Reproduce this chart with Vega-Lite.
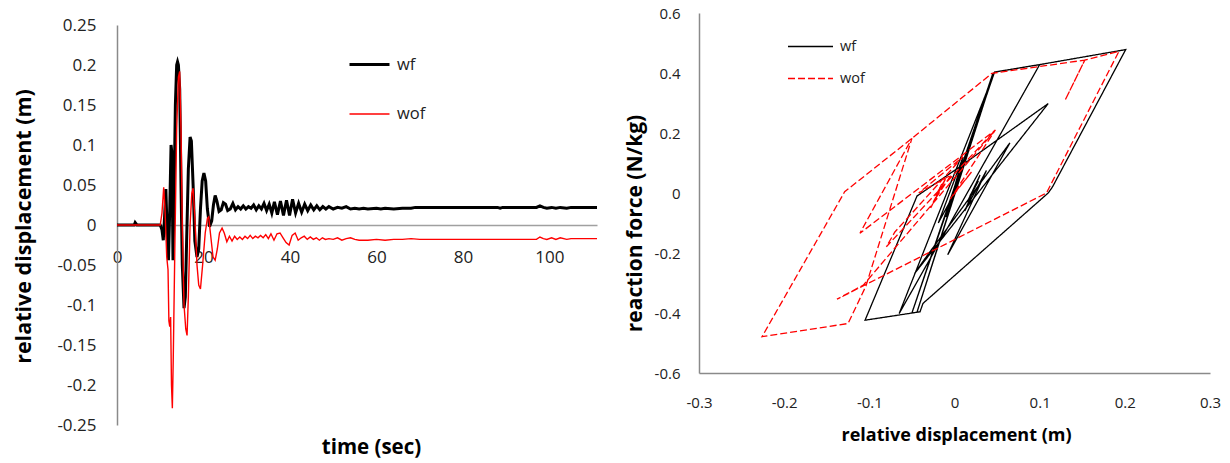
{
"$schema":"https://vega.github.io/schema/vega-lite/v6.json",
"width":1230,"height":463,"autosize":{"type":"none"},"padding":0,
"background":"white",
"config":{"view":{"stroke":null},"font":"Open Sans",
 "locale":{"number":{"decimal":".","thousands":",","grouping":[3],"currency":["$",""],"minus":"-"}},
 "axis":{"grid":false,"ticks":false,"tickSize":0,"labelFont":"Open Sans","titleFont":"Open Sans","labelColor":"#222222","titleColor":"#000000","labelOverlap":false,"labelFlush":false,"domainColor":"#8a8a8a","domainWidth":1.5},
 "legend":{"labelFont":"Open Sans","labelColor":"#222222","padding":0}},
"datasets":{
"ts":[
{"s":"wf","t":0,"v":0},{"s":"wf","t":4,"v":0},{"s":"wf","t":4.2,"v":0.003},{"s":"wf","t":4.6,"v":0},{"s":"wf","t":10,"v":0},{"s":"wf","t":10.4,"v":-0.006},{"s":"wf","t":10.7,"v":-0.019},{"s":"wf","t":11.0,"v":0.01},{"s":"wf","t":11.3,"v":0.045},{"s":"wf","t":11.6,"v":-0.01},{"s":"wf","t":11.9,"v":-0.044},{"s":"wf","t":12.2,"v":0.02},{"s":"wf","t":12.5,"v":0.1},{"s":"wf","t":12.7,"v":0.09},{"s":"wf","t":12.95,"v":-0.044},{"s":"wf","t":13.2,"v":0.04},{"s":"wf","t":13.5,"v":0.15},{"s":"wf","t":13.8,"v":0.2},{"s":"wf","t":14.0,"v":0.204},{"s":"wf","t":14.2,"v":0.2},{"s":"wf","t":14.5,"v":0.17},{"s":"wf","t":14.8,"v":0.05},{"s":"wf","t":15.1,"v":-0.05},{"s":"wf","t":15.5,"v":-0.104},{"s":"wf","t":15.8,"v":-0.09},{"s":"wf","t":16.1,"v":-0.02},{"s":"wf","t":16.5,"v":0.07},{"s":"wf","t":16.9,"v":0.11},{"s":"wf","t":17.2,"v":0.105},{"s":"wf","t":17.6,"v":0.05},{"s":"wf","t":18.0,"v":-0.02},{"s":"wf","t":18.5,"v":-0.04},{"s":"wf","t":18.9,"v":-0.03},{"s":"wf","t":19.3,"v":0.02},{"s":"wf","t":19.7,"v":0.055},{"s":"wf","t":20.1,"v":0.065},{"s":"wf","t":20.5,"v":0.055},{"s":"wf","t":20.9,"v":0.02},{"s":"wf","t":21.4,"v":-0.002},{"s":"wf","t":21.9,"v":0.005},{"s":"wf","t":22.3,"v":0.025},{"s":"wf","t":22.7,"v":0.037},{"s":"wf","t":23.1,"v":0.03},{"s":"wf","t":23.6,"v":0.017},{"s":"wf","t":24.1,"v":0.019},{"s":"wf","t":24.6,"v":0.028},{"s":"wf","t":25.1,"v":0.026},{"s":"wf","t":25.6,"v":0.018},{"s":"wf","t":26.2,"v":0.02},{"s":"wf","t":26.8,"v":0.027},{"s":"wf","t":27.4,"v":0.019},{"s":"wf","t":28,"v":0.023},{"s":"wf","t":28.6,"v":0.02},{"s":"wf","t":29.2,"v":0.024},{"s":"wf","t":29.8,"v":0.02},{"s":"wf","t":30.4,"v":0.023},{"s":"wf","t":31,"v":0.021},{"s":"wf","t":31.6,"v":0.025},{"s":"wf","t":32.2,"v":0.019},{"s":"wf","t":32.8,"v":0.024},{"s":"wf","t":33.4,"v":0.02},{"s":"wf","t":34,"v":0.027},{"s":"wf","t":34.6,"v":0.018},{"s":"wf","t":35.2,"v":0.026},{"s":"wf","t":35.8,"v":0.015},{"s":"wf","t":36.4,"v":0.029},{"s":"wf","t":37.1,"v":0.013},{"s":"wf","t":37.8,"v":0.03},{"s":"wf","t":38.5,"v":0.012},{"s":"wf","t":39.2,"v":0.031},{"s":"wf","t":39.9,"v":0.012},{"s":"wf","t":40.6,"v":0.032},{"s":"wf","t":41.3,"v":0.015},{"s":"wf","t":42,"v":0.027},{"s":"wf","t":42.7,"v":0.016},{"s":"wf","t":43.4,"v":0.026},{"s":"wf","t":44.1,"v":0.018},{"s":"wf","t":44.8,"v":0.025},{"s":"wf","t":45.5,"v":0.019},{"s":"wf","t":46.2,"v":0.024},{"s":"wf","t":46.9,"v":0.019},{"s":"wf","t":47.6,"v":0.023},{"s":"wf","t":48.3,"v":0.02},{"s":"wf","t":49,"v":0.023},{"s":"wf","t":50,"v":0.02},{"s":"wf","t":51,"v":0.022},{"s":"wf","t":52,"v":0.021},{"s":"wf","t":53,"v":0.023},{"s":"wf","t":54,"v":0.02},{"s":"wf","t":55,"v":0.021},{"s":"wf","t":56,"v":0.02},{"s":"wf","t":57,"v":0.021},{"s":"wf","t":58,"v":0.02},{"s":"wf","t":60,"v":0.021},{"s":"wf","t":61,"v":0.02},{"s":"wf","t":62,"v":0.021},{"s":"wf","t":64,"v":0.02},{"s":"wf","t":66,"v":0.021},{"s":"wf","t":68,"v":0.021},{"s":"wf","t":69,"v":0.022},{"s":"wf","t":88,"v":0.022},{"s":"wf","t":88.6,"v":0.021},{"s":"wf","t":89.2,"v":0.022},{"s":"wf","t":97,"v":0.022},{"s":"wf","t":97.8,"v":0.024},{"s":"wf","t":98.6,"v":0.022},{"s":"wf","t":99.4,"v":0.021},{"s":"wf","t":100.5,"v":0.022},{"s":"wf","t":101.5,"v":0.021},{"s":"wf","t":102.5,"v":0.022},{"s":"wf","t":104,"v":0.021},{"s":"wf","t":105,"v":0.022},{"s":"wf","t":111,"v":0.022},
{"s":"wof","t":0,"v":0},{"s":"wof","t":10,"v":0},{"s":"wof","t":10.4,"v":0.015},{"s":"wof","t":10.8,"v":0.047},{"s":"wof","t":11.1,"v":0.02},{"s":"wof","t":11.5,"v":-0.04},{"s":"wof","t":11.8,"v":-0.056},{"s":"wof","t":12.0,"v":-0.12},{"s":"wof","t":12.2,"v":-0.127},{"s":"wof","t":12.4,"v":-0.115},{"s":"wof","t":12.6,"v":-0.2},{"s":"wof","t":12.8,"v":-0.229},{"s":"wof","t":13.0,"v":-0.17},{"s":"wof","t":13.4,"v":-0.02},{"s":"wof","t":13.8,"v":0.12},{"s":"wof","t":14.2,"v":0.185},{"s":"wof","t":14.5,"v":0.192},{"s":"wof","t":14.8,"v":0.12},{"s":"wof","t":15.1,"v":0.0},{"s":"wof","t":15.5,"v":-0.1},{"s":"wof","t":15.9,"v":-0.13},{"s":"wof","t":16.2,"v":-0.138},{"s":"wof","t":16.5,"v":-0.09},{"s":"wof","t":16.9,"v":0.0},{"s":"wof","t":17.3,"v":0.04},{"s":"wof","t":17.6,"v":0.046},{"s":"wof","t":18.0,"v":0.01},{"s":"wof","t":18.5,"v":-0.05},{"s":"wof","t":18.9,"v":-0.075},{"s":"wof","t":19.3,"v":-0.08},{"s":"wof","t":19.8,"v":-0.05},{"s":"wof","t":20.4,"v":-0.01},{"s":"wof","t":20.9,"v":0.008},{"s":"wof","t":21.2,"v":0.01},{"s":"wof","t":21.7,"v":-0.015},{"s":"wof","t":22.2,"v":-0.04},{"s":"wof","t":22.7,"v":-0.044},{"s":"wof","t":23.2,"v":-0.03},{"s":"wof","t":23.7,"v":-0.01},{"s":"wof","t":24.3,"v":-0.004},{"s":"wof","t":24.8,"v":-0.01},{"s":"wof","t":25.4,"v":-0.021},{"s":"wof","t":26,"v":-0.014},{"s":"wof","t":26.6,"v":-0.02},{"s":"wof","t":27.2,"v":-0.014},{"s":"wof","t":27.8,"v":-0.018},{"s":"wof","t":28.4,"v":-0.015},{"s":"wof","t":29,"v":-0.018},{"s":"wof","t":29.6,"v":-0.014},{"s":"wof","t":30.2,"v":-0.017},{"s":"wof","t":30.8,"v":-0.013},{"s":"wof","t":31.4,"v":-0.017},{"s":"wof","t":32,"v":-0.014},{"s":"wof","t":32.6,"v":-0.016},{"s":"wof","t":33.2,"v":-0.013},{"s":"wof","t":33.8,"v":-0.016},{"s":"wof","t":34.4,"v":-0.012},{"s":"wof","t":35,"v":-0.017},{"s":"wof","t":35.6,"v":-0.011},{"s":"wof","t":36.3,"v":-0.019},{"s":"wof","t":37,"v":-0.011},{"s":"wof","t":37.7,"v":-0.01},{"s":"wof","t":38.4,"v":-0.016},{"s":"wof","t":39.1,"v":-0.022},{"s":"wof","t":39.8,"v":-0.025},{"s":"wof","t":40.5,"v":-0.013},{"s":"wof","t":41.2,"v":-0.01},{"s":"wof","t":41.9,"v":-0.019},{"s":"wof","t":42.6,"v":-0.016},{"s":"wof","t":43.3,"v":-0.014},{"s":"wof","t":44,"v":-0.018},{"s":"wof","t":44.7,"v":-0.015},{"s":"wof","t":45.4,"v":-0.018},{"s":"wof","t":46.1,"v":-0.016},{"s":"wof","t":46.8,"v":-0.019},{"s":"wof","t":47.5,"v":-0.016},{"s":"wof","t":48.2,"v":-0.018},{"s":"wof","t":49,"v":-0.017},{"s":"wof","t":50,"v":-0.018},{"s":"wof","t":51,"v":-0.016},{"s":"wof","t":52,"v":-0.019},{"s":"wof","t":53,"v":-0.017},{"s":"wof","t":54,"v":-0.016},{"s":"wof","t":55,"v":-0.018},{"s":"wof","t":56,"v":-0.019},{"s":"wof","t":58,"v":-0.019},{"s":"wof","t":60,"v":-0.018},{"s":"wof","t":62,"v":-0.019},{"s":"wof","t":64,"v":-0.018},{"s":"wof","t":66,"v":-0.018},{"s":"wof","t":68,"v":-0.017},{"s":"wof","t":70,"v":-0.018},{"s":"wof","t":88,"v":-0.018},{"s":"wof","t":97,"v":-0.018},{"s":"wof","t":97.8,"v":-0.015},{"s":"wof","t":98.6,"v":-0.017},{"s":"wof","t":99.4,"v":-0.018},{"s":"wof","t":100.5,"v":-0.016},{"s":"wof","t":101.5,"v":-0.018},{"s":"wof","t":102.5,"v":-0.016},{"s":"wof","t":104,"v":-0.018},{"s":"wof","t":105,"v":-0.017},{"s":"wof","t":111,"v":-0.017}
],
"hy":[
{"s":"wf","i":0,"d":0,"f":0},{"s":"wf","i":1,"d":-0.019,"f":-0.1},{"s":"wf","i":2,"d":0.01,"f":0.12},{"s":"wf","i":3,"d":-0.01,"f":-0.08},{"s":"wf","i":4,"d":0.046,"f":0.4},{"s":"wf","i":5,"d":-0.044,"f":-0.397},{"s":"wf","i":6,"d":0.045,"f":0.398},{"s":"wf","i":7,"d":-0.05,"f":-0.4},{"s":"wf","i":8,"d":0.047,"f":0.403},{"s":"wf","i":9,"d":0.1,"f":0.428},{"s":"wf","i":10,"d":-0.065,"f":-0.402},{"s":"wf","i":11,"d":0.047,"f":0.403},{"s":"wf","i":12,"d":0.1,"f":0.428},{"s":"wf","i":13,"d":0.201,"f":0.478},{"s":"wf","i":14,"d":0.115,"f":0.02},{"s":"wf","i":15,"d":0.11,"f":0},{"s":"wf","i":16,"d":-0.037,"f":-0.368},{"s":"wf","i":17,"d":-0.0405,"f":-0.396},{"s":"wf","i":18,"d":-0.105,"f":-0.424},{"s":"wf","i":19,"d":-0.044,"f":-0.01},{"s":"wf","i":20,"d":0.005,"f":0.085},{"s":"wf","i":21,"d":0.11,"f":0.298},{"s":"wf","i":22,"d":-0.047,"f":-0.269},{"s":"wf","i":23,"d":-0.035,"f":-0.22},{"s":"wf","i":24,"d":0.065,"f":0.167},{"s":"wf","i":25,"d":-0.008,"f":-0.206},{"s":"wf","i":26,"d":0.0375,"f":0.075},{"s":"wf","i":27,"d":0.012,"f":-0.06},{"s":"wf","i":28,"d":0.03,"f":0.06},{"s":"wf","i":29,"d":0.015,"f":-0.03},{"s":"wf","i":30,"d":0.028,"f":0.04},{"s":"wf","i":31,"d":0.018,"f":-0.01},{"s":"wf","i":32,"d":0.026,"f":0.03},{"s":"wf","i":33,"d":0.02,"f":0},{"s":"wf","i":34,"d":0.024,"f":0.02},{"s":"wf","i":35,"d":0.021,"f":0.005},
{"s":"wof","i":0,"d":0,"f":0},{"s":"wof","i":1,"d":0.02,"f":0.07},{"s":"wof","i":2,"d":-0.005,"f":-0.02},{"s":"wof","i":3,"d":0.048,"f":0.21},{"s":"wof","i":4,"d":-0.111,"f":-0.134},{"s":"wof","i":5,"d":-0.05,"f":0.182},{"s":"wof","i":6,"d":-0.104,"f":-0.31},{"s":"wof","i":7,"d":-0.125,"f":-0.435},{"s":"wof","i":8,"d":-0.226,"f":-0.479},{"s":"wof","i":9,"d":-0.129,"f":0.004},{"s":"wof","i":10,"d":-0.05,"f":0.182},{"s":"wof","i":11,"d":0.044,"f":0.399},{"s":"wof","i":12,"d":0.153,"f":0.443},{"s":"wof","i":13,"d":0.13,"f":0.31},{"s":"wof","i":14,"d":0.153,"f":0.443},{"s":"wof","i":15,"d":0.193,"f":0.472},{"s":"wof","i":16,"d":0.108,"f":0},{"s":"wof","i":17,"d":-0.138,"f":-0.354},{"s":"wof","i":18,"d":-0.107,"f":-0.307},{"s":"wof","i":19,"d":0.048,"f":0.21},{"s":"wof","i":20,"d":-0.08,"f":-0.179},{"s":"wof","i":21,"d":-0.07,"f":-0.13},{"s":"wof","i":22,"d":0.01,"f":0.121},{"s":"wof","i":23,"d":-0.042,"f":0},{"s":"wof","i":24,"d":-0.004,"f":0.06},{"s":"wof","i":25,"d":-0.025,"f":-0.03},{"s":"wof","i":26,"d":-0.01,"f":0.05},{"s":"wof","i":27,"d":-0.028,"f":-0.05},{"s":"wof","i":28,"d":-0.012,"f":0.04},{"s":"wof","i":29,"d":-0.022,"f":-0.01},{"s":"wof","i":30,"d":-0.015,"f":0.03},{"s":"wof","i":31,"d":-0.02,"f":0},{"s":"wof","i":32,"d":-0.017,"f":0.02},{"s":"wof","i":33,"d":-0.019,"f":0}
]},
"layer":[
{"data":{"name":"ts"},"mark":{"type":"line"},
 "encoding":{
  "x":{"field":"t","type":"quantitative","scale":{"domain":[0,111],"range":[117,597],"nice":false,"zero":false},
   "axis":{"orient":"bottom","offset":-238,"values":[0,20,40,60,80,100],"labelFontSize":17,"labelBaseline":"middle","labelPadding":32,"domainColor":"#a0a0a0","title":"time (sec)","titleFontSize":20.5,"titleFontWeight":"bold","titleX":371,"titleY":222,"titleBaseline":"middle","titleAlign":"center"}},
  "y":{"field":"v","type":"quantitative","scale":{"domain":[-0.25,0.25],"range":[425,25],"nice":false,"zero":false},
   "axis":{"orient":"left","offset":-117,"values":[-0.25,-0.2,-0.15,-0.1,-0.05,0,0.05,0.1,0.15,0.2,0.25],"format":".2~f","labelFontSize":17,"labelPadding":21,"title":"relative displacement (m)","titleFontSize":21.5,"titleFontWeight":"bold","titleX":-93,"titleY":226,"titleAngle":270,"titleBaseline":"middle","titleAlign":"center"}},
  "color":{"field":"s","type":"nominal","scale":{"domain":["wf","wof"],"range":["#000000","#ff0000"]},
   "legend":{"title":null,"orient":"none","legendX":348,"legendY":43,"symbolType":"stroke","symbolSize":1600,"labelFontSize":16.5,"labelOffset":6,"rowPadding":20}},
  "strokeWidth":{"field":"s","type":"nominal","scale":{"domain":["wf","wof"],"range":[3,1.4]},
   "legend":{"title":null,"orient":"none","legendX":348,"legendY":43,"symbolType":"stroke","symbolSize":1600,"labelFontSize":16.5,"labelOffset":6,"rowPadding":20}}
 }},
{"data":{"name":"hy"},"mark":{"type":"line","strokeWidth":1.3},
 "encoding":{
  "x":{"field":"d","type":"quantitative","scale":{"domain":[-0.3,0.3],"range":[699,1210],"nice":false,"zero":false},
   "axis":{"orient":"bottom","offset":-90,"values":[-0.3,-0.2,-0.1,0,0.1,0.2,0.3],"format":".1~f","labelFontSize":15,"labelBaseline":"middle","labelPadding":29,"title":"relative displacement  (m)","titleFontSize":18,"titleFontWeight":"bold","titleX":956,"titleY":62,"titleBaseline":"middle","titleAlign":"center"}},
  "y":{"field":"f","type":"quantitative","scale":{"domain":[-0.6,0.6],"range":[373,13],"nice":false,"zero":false},
   "axis":{"orient":"left","offset":-699,"values":[-0.6,-0.4,-0.2,0,0.2,0.4,0.6],"format":".1~f","labelFontSize":15,"labelPadding":19,"title":"reaction force (N/kg)","titleFontSize":21,"titleFontWeight":"bold","titleX":-64,"titleY":223,"titleAngle":270,"titleBaseline":"middle","titleAlign":"center"}},
  "order":{"field":"i","type":"quantitative"},
  "color":{"field":"s","type":"nominal","scale":{"domain":["wf","wof"],"range":["#000000","#ff0000"]},
   "legend":{"title":null,"orient":"none","legendX":787,"legendY":23,"symbolType":"stroke","symbolSize":2025,"symbolStrokeWidth":1.3,"labelFontSize":14.5,"labelOffset":6,"rowPadding":2}},
  "strokeDash":{"field":"s","type":"nominal","scale":{"domain":["wf","wof"],"range":[[1,0],[7,3]]},
   "legend":{"title":null,"orient":"none","legendX":787,"legendY":23,"symbolType":"stroke","symbolSize":2025,"symbolStrokeWidth":1.3,"labelFontSize":14.5,"labelOffset":6,"rowPadding":2}}
 }}
],
"resolve":{"scale":{"x":"independent","y":"independent","color":"independent","strokeWidth":"independent","strokeDash":"independent"},"axis":{"x":"independent","y":"independent"},"legend":{"color":"independent","strokeWidth":"independent","strokeDash":"independent"}}
}
